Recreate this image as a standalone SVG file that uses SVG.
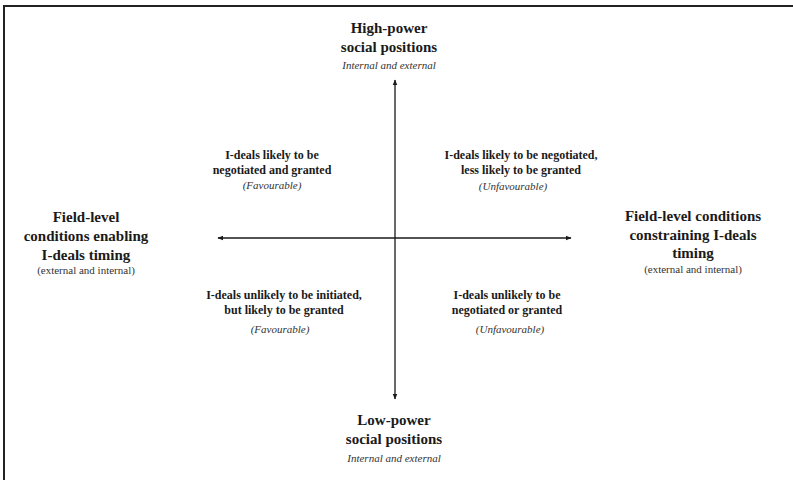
<svg xmlns="http://www.w3.org/2000/svg" width="793" height="480" viewBox="0 0 793 480">
<defs>
<style>
text{font-family:"Liberation Serif","Times New Roman",serif;fill:#1a1a1a;text-anchor:middle}
.h{font-size:15px;font-weight:bold}
.q{font-size:12px;font-weight:bold}
.i{font-size:11px;font-style:italic;fill:#333}
.s{font-size:11px;fill:#333}
.ax{stroke:#1a1a1a;stroke-width:1.3;fill:none}
</style>
<marker id="ah" viewBox="0 0 10 10" refX="9" refY="5" markerWidth="6" markerHeight="6" orient="auto-start-reverse" markerUnits="userSpaceOnUse">
<path d="M0,1 L10,5 L0,9 Z" fill="#1a1a1a"/>
</marker>
</defs>
<rect width="793" height="480" fill="#fff"/>
<path d="M4,480 V6 H793" fill="none" stroke="#222" stroke-width="2"/>
<g id="connectors">
<line class="ax" x1="395" y1="80" x2="395" y2="399" marker-start="url(#ah)" marker-end="url(#ah)"/>
<line class="ax" x1="218" y1="238" x2="571" y2="238" marker-start="url(#ah)" marker-end="url(#ah)"/>
</g>
<g id="top">
<text class="h" x="389" y="33">High-power</text>
<text class="h" x="389" y="52">social positions</text>
<text class="i" x="389" y="69">Internal and external</text>
</g>
<g id="bottom">
<text class="h" x="394" y="425">Low-power</text>
<text class="h" x="394" y="444">social positions</text>
<text class="i" x="394" y="462">Internal and external</text>
</g>
<g id="left">
<text class="h" x="86" y="222">Field-level</text>
<text class="h" x="86" y="241">conditions enabling</text>
<text class="h" x="86" y="260">I-deals timing</text>
<text class="s" x="86" y="274">(external and internal)</text>
</g>
<g id="right">
<text class="h" x="693" y="221">Field-level conditions</text>
<text class="h" x="693" y="240">constraining I-deals</text>
<text class="h" x="693" y="258">timing</text>
<text class="s" x="693" y="273">(external and internal)</text>
</g>
<g id="q-top-left">
<text class="q" x="272" y="159">I-deals likely to be</text>
<text class="q" x="272" y="174">negotiated and granted</text>
<text class="i" x="272" y="189">(Favourable)</text>
</g>
<g id="q-top-right">
<text class="q" x="521" y="159">I-deals likely to be negotiated,</text>
<text class="q" x="521" y="174">less likely to be granted</text>
<text class="i" x="513" y="190">(Unfavourable)</text>
</g>
<g id="q-bottom-left">
<text class="q" x="284" y="299">I-deals unlikely to be initiated,</text>
<text class="q" x="284" y="314">but likely to be granted</text>
<text class="i" x="280" y="333">(Favourable)</text>
</g>
<g id="q-bottom-right">
<text class="q" x="507" y="299">I-deals unlikely to be</text>
<text class="q" x="507" y="314">negotiated or granted</text>
<text class="i" x="510" y="333">(Unfavourable)</text>
</g>
</svg>
